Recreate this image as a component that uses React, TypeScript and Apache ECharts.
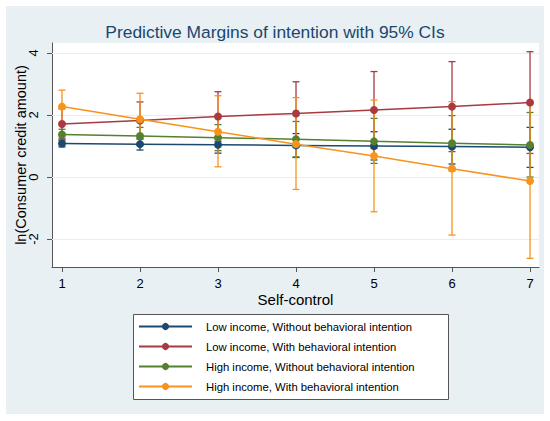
import React, { useEffect, useRef } from "react";
import * as echarts from "echarts";

const selfControl = [1, 2, 3, 4, 5, 6, 7];
const xTickLabels = [1, 2, 3, 4, 5, 6, 7];
const yTickLabels = [-2, 0, 2, 4];

const seriesNames = [
  "Low income, Without behavioral intention",
  "Low income, With behavioral intention",
  "High income, Without behavioral intention",
  "High income, With behavioral intention",
];

const lowWithout = [1.08, 1.06, 1.04, 1.02, 1.0, 0.98, 0.96];
const lowWithoutLo = [0.97, 0.87, 0.77, 0.63, 0.55, 0.42, 0.31];
const lowWithoutHi = [1.19, 1.24, 1.3, 1.4, 1.46, 1.54, 1.6];

const lowWith = [1.71, 1.82, 1.95, 2.05, 2.16, 2.27, 2.4];
const lowWithLo = [1.25, 1.22, 1.15, 1.03, 0.92, 0.82, 0.76];
const lowWithHi = [2.2, 2.42, 2.75, 3.07, 3.4, 3.72, 4.04];

const highWithout = [1.37, 1.32, 1.27, 1.22, 1.15, 1.09, 1.03];
const highWithoutLo = [1.2, 1.04, 0.85, 0.65, 0.44, 0.2, 0.0];
const highWithoutHi = [1.54, 1.6, 1.69, 1.79, 1.89, 1.98, 2.08];

const highWith = [2.27, 1.86, 1.46, 1.06, 0.68, 0.27, -0.13];
const highWithLo = [1.74, 1.02, 0.33, -0.4, -1.12, -1.87, -2.62];
const highWithHi = [2.8, 2.7, 2.62, 2.56, 2.48, 2.43, 2.38];

const colors = ["#1a4a72", "#a83a40", "#55802f", "#f7941d"];

const FONT = "Liberation Sans, Arial, Helvetica, sans-serif";

export default function App() {
  const ref = useRef<HTMLDivElement>(null);

  useEffect(() => {
    if (!ref.current) return;
    const chart = echarts.init(ref.current, undefined, { renderer: "svg" });

    const means = [lowWithout, lowWith, highWithout, highWith];
    const los = [lowWithoutLo, lowWithLo, highWithoutLo, highWithLo];
    const his = [lowWithoutHi, lowWithHi, highWithoutHi, highWithHi];

    const ciSeries = means.map((_, i) => ({
      type: "custom",
      name: "ci" + i,
      z: 2,
      silent: true,
      encode: { x: 0, y: [1, 2] },
      data: selfControl.map((x, j) => [x, los[i][j], his[i][j]]),
      renderItem: (params: any, api: any) => {
        const x = api.value(0);
        const lo = api.coord([x, api.value(1)]);
        const hi = api.coord([x, api.value(2)]);
        const cap = 3.5;
        const style = { stroke: colors[i], lineWidth: 1.3, fill: "none" };
        return {
          type: "group",
          children: [
            { type: "line", shape: { x1: lo[0], y1: lo[1], x2: hi[0], y2: hi[1] }, style },
            { type: "line", shape: { x1: lo[0] - cap, y1: lo[1], x2: lo[0] + cap, y2: lo[1] }, style },
            { type: "line", shape: { x1: hi[0] - cap, y1: hi[1], x2: hi[0] + cap, y2: hi[1] }, style },
          ],
        };
      },
    }));

    const lineSeries = means.map((m, i) => ({
      type: "line",
      name: seriesNames[i],
      z: 3,
      data: selfControl.map((x, j) => [x, m[j]]),
      symbol: "circle",
      symbolSize: 8,
      showSymbol: true,
      lineStyle: { color: colors[i], width: 1.5 },
      itemStyle: { color: colors[i] },
      ...(i === 0
        ? {
            markLine: {
              silent: true,
              symbol: "none",
              z: 1,
              label: { show: false },
              lineStyle: { color: "#e6eef2", width: 1, type: "solid" },
              data: yTickLabels.map((v) => ({ yAxis: v })),
            },
          }
        : {}),
    }));

    chart.setOption({
      animation: false,
      backgroundColor: "#ffffff",
      textStyle: { fontFamily: FONT },
      title: {
        text: "Predictive Margins of intention with 95% CIs",
        left: "center",
        top: 18,
        textStyle: { color: "#1a476f", fontSize: 17.4, fontWeight: "normal", fontFamily: FONT },
      },
      graphic: [
        {
          type: "rect",
          z: -10,
          silent: true,
          shape: { x: 6, y: 6, width: 538, height: 408 },
          style: { fill: "#e8f0f4" },
        },
        {
          type: "rect",
          z: -5,
          silent: true,
          shape: { x: 133.5, y: 314.5, width: 315, height: 85 },
          style: { fill: "#ffffff", stroke: "#555", lineWidth: 1 },
        },
      ],
      grid: {
        left: 52,
        top: 43,
        width: 487,
        height: 224,
        show: true,
        backgroundColor: "#ffffff",
        borderWidth: 0,
        containLabel: false,
        outerBoundsMode: "none",
      },
      xAxis: {
        type: "value",
        min: 0.872,
        max: 7.115,
        name: "Self-control",
        nameLocation: "middle",
        nameGap: 25,
        nameMoveOverlap: false,
        nameTextStyle: { fontSize: 15, color: "#000", fontFamily: FONT },
        axisLine: { show: true, onZero: false, lineStyle: { color: "#555", width: 1 } },
        axisTick: { show: true, inside: false, length: 5, lineStyle: { color: "#555" }, customValues: xTickLabels },
        axisLabel: { customValues: xTickLabels, fontSize: 13, color: "#000", margin: 10, fontFamily: FONT },
        splitLine: { show: false },
      },
      yAxis: {
        type: "value",
        min: -2.9,
        max: 4.32,
        name: "ln(Consumer credit amount)",
        nameLocation: "middle",
        nameGap: 24,
        nameMoveOverlap: false,
        nameTextStyle: { fontSize: 14.5, color: "#000", fontFamily: FONT },
        axisLine: { show: true, onZero: false, lineStyle: { color: "#555", width: 1 } },
        axisTick: { show: true, inside: false, length: 5, lineStyle: { color: "#555" }, customValues: yTickLabels },
        axisLabel: { customValues: yTickLabels, rotate: 90, fontSize: 13, color: "#000", margin: 12, fontFamily: FONT },
        splitLine: { show: false },
      },
      legend: {
        show: true,
        orient: "vertical",
        left: 133,
        top: 314,
        data: seriesNames,
        itemWidth: 53,
        itemHeight: 9,
        itemGap: 9,
        padding: [7, 5, 5, 5],
        backgroundColor: "transparent",
        borderWidth: 0,
        selectedMode: false,
        textStyle: { fontSize: 11.3, color: "#000", fontFamily: FONT, padding: [0, 0, 0, 9] },
      },
      series: [...ciSeries, ...lineSeries],
    });

    return () => chart.dispose();
  }, []);

  return (
    <div style={{ position: "fixed", left: 0, top: 0, width: 550, height: 421, background: "#fff" }}>
      <div ref={ref} style={{ width: 550, height: 421 }} />
    </div>
  );
}
